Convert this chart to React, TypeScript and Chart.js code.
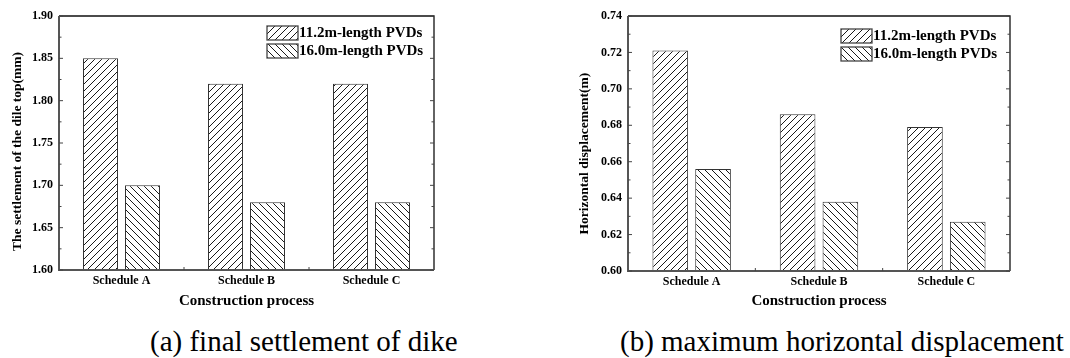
import React, { useEffect, useRef } from "react";
import { Chart, registerables } from "chart.js";

Chart.register(...registerables);

const categories = ["Schedule A", "Schedule B", "Schedule C"];
const seriesLabels = ["11.2m-length PVDs", "16.0m-length PVDs"];
const settlement112 = [1.85, 1.82, 1.82];
const settlement160 = [1.7, 1.68, 1.68];
const displacement112 = [0.721, 0.686, 0.679];
const displacement160 = [0.656, 0.638, 0.627];
const settlementTicks = { min: 1.6, max: 1.9, step: 0.05 };
const displacementTicks = { min: 0.6, max: 0.74, step: 0.02 };

const SERIF = "'Liberation Serif', 'Times New Roman', serif";

function makeHatch(forward: boolean): CanvasPattern | string {
  const s = 7;
  const c = document.createElement("canvas");
  c.width = s;
  c.height = s;
  const ctx = c.getContext("2d");
  if (!ctx) return "#fff";
  ctx.fillStyle = "#fff";
  ctx.fillRect(0, 0, s, s);
  ctx.strokeStyle = "#1a1a1a";
  ctx.lineWidth = 1;
  ctx.beginPath();
  if (forward) {
    ctx.moveTo(-1, s + 1);
    ctx.lineTo(s + 1, -1);
    ctx.moveTo(-1, 1);
    ctx.lineTo(1, -1);
    ctx.moveTo(s - 1, s + 1);
    ctx.lineTo(s + 1, s - 1);
  } else {
    ctx.moveTo(-1, -1);
    ctx.lineTo(s + 1, s + 1);
    ctx.moveTo(s - 1, -1);
    ctx.lineTo(s + 1, 1);
    ctx.moveTo(-1, s - 1);
    ctx.lineTo(1, s + 1);
  }
  ctx.stroke();
  const p = ctx.createPattern(c, "repeat");
  return p || "#fff";
}

type LegendPos = { x: number; y: number };

function makeFramePlugin(legend: LegendPos) {
  return {
    id: "frameAndLegend",
    afterDraw(chart: any) {
      const { ctx, chartArea } = chart;
      const { left, right, top, bottom } = chartArea;
      const y = chart.scales.y;
      const x = chart.scales.x;
      ctx.save();
      // frame
      ctx.strokeStyle = "#111";
      ctx.lineWidth = 1.3;
      ctx.beginPath();
      ctx.moveTo(left, top);
      ctx.lineTo(right, top);
      ctx.lineTo(right, bottom);
      ctx.stroke();
      ctx.strokeStyle = "#555";
      ctx.lineWidth = 2;
      ctx.beginPath();
      ctx.moveTo(left, top);
      ctx.lineTo(left, bottom);
      ctx.lineTo(right, bottom);
      ctx.stroke();
      // inner y ticks (major + minor) on left and right
      ctx.lineWidth = 1;
      ctx.strokeStyle = "#444";
      const ticks = y.ticks.map((t: any) => t.value);
      ctx.beginPath();
      for (let i = 0; i < ticks.length; i++) {
        const py = y.getPixelForValue(ticks[i]);
        ctx.moveTo(left, py);
        ctx.lineTo(left + 4, py);
        ctx.moveTo(right, py);
        ctx.lineTo(right - 4, py);
        if (i < ticks.length - 1) {
          const my = y.getPixelForValue((ticks[i] + ticks[i + 1]) / 2);
          ctx.moveTo(left, my);
          ctx.lineTo(left + 2.5, my);
          ctx.moveTo(right, my);
          ctx.lineTo(right - 2.5, my);
        }
      }
      // x ticks at category boundaries
      for (let i = 0; i < x.ticks.length - 1; i++) {
        const bx = (x.getPixelForTick(i) + x.getPixelForTick(i + 1)) / 2;
        ctx.moveTo(bx, bottom);
        ctx.lineTo(bx, bottom - 3);
      }
      ctx.stroke();
      // legend
      ctx.font = `bold 15px ${SERIF}`;
      ctx.textBaseline = "middle";
      ctx.textAlign = "left";
      chart.data.datasets.forEach((ds: any, i: number) => {
        const bx = legend.x;
        const by = legend.y + i * 18;
        ctx.fillStyle = ds.backgroundColor;
        ctx.fillRect(bx, by, 31, 14);
        ctx.strokeStyle = "#444";
        ctx.lineWidth = 1.3;
        ctx.strokeRect(bx, by, 31, 14);
        ctx.fillStyle = "#000";
        ctx.fillText(ds.label, bx + 32, by + 7.5);
      });
      ctx.restore();
    },
  };
}

type PanelProps = {
  left: number;
  yTitle: string;
  a: number[];
  b: number[];
  tickCfg: { min: number; max: number; step: number };
  plotLeft: number;
  plotRight: number;
  plotBottom: number;
  yTitlePad: number;
  legend: LegendPos;
};

function Panel(props: PanelProps) {
  const ref = useRef<HTMLCanvasElement | null>(null);
  useEffect(() => {
    if (!ref.current) return;
    const W = 535;
    const H = 310;
    const chart = new Chart(ref.current, {
      type: "bar",
      data: {
        labels: categories,
        datasets: [
          {
            label: seriesLabels[0],
            data: props.a,
            backgroundColor: makeHatch(true) as any,
            borderColor: "#333",
            borderWidth: 1,
            categoryPercentage: 0.672,
            barPercentage: 0.833,
          },
          {
            label: seriesLabels[1],
            data: props.b,
            backgroundColor: makeHatch(false) as any,
            borderColor: "#333",
            borderWidth: 1,
            categoryPercentage: 0.672,
            barPercentage: 0.833,
          },
        ],
      },
      options: {
        responsive: false,
        animation: false,
        devicePixelRatio: 1,
        layout: {
          padding: { left: 0, top: 16, right: W - props.plotRight, bottom: 0 },
        },
        plugins: {
          legend: { display: false },
          tooltip: { enabled: false },
        },
        scales: {
          x: {
            type: "category",
            grid: { display: false, drawTicks: false },
            border: { display: false },
            ticks: {
              padding: 4,
              color: "#000",
              font: { family: SERIF, size: 12, weight: "bold" },
            },
            title: {
              display: true,
              text: "Construction process",
              color: "#000",
              font: { family: SERIF, size: 15, weight: "bold", lineHeight: 1 },
              padding: { top: 0, bottom: 1 },
            },
            afterFit(scale: any) {
              scale.height = H - props.plotBottom;
            },
          },
          y: {
            type: "linear",
            min: props.tickCfg.min,
            max: props.tickCfg.max,
            grid: { display: false, drawTicks: false },
            border: { display: false },
            ticks: {
              stepSize: props.tickCfg.step,
              padding: 6,
              color: "#000",
              font: { family: SERIF, size: 12, weight: "bold" },
              callback: (v: any) => Number(v).toFixed(2),
            },
            title: {
              display: true,
              text: props.yTitle,
              color: "#000",
              font: { family: SERIF, size: 13.5, weight: "bold", lineHeight: 1.2 },
              padding: { top: props.yTitlePad, bottom: 0 },
            },
            afterFit(scale: any) {
              scale.width = props.plotLeft;
            },
          },
        },
      } as any,
      plugins: [makeFramePlugin(props.legend)],
    });
    return () => chart.destroy();
  }, []);
  return (
    <canvas
      ref={ref}
      width={535}
      height={310}
      style={{ position: "absolute", left: props.left, top: 0, width: 535, height: 310 }}
    />
  );
}

const captionStyle: React.CSSProperties = {
  position: "absolute",
  top: 327,
  fontFamily: SERIF,
  fontSize: 29,
  lineHeight: "29px",
  whiteSpace: "nowrap",
  color: "#000",
};

export default function App() {
  return (
    <div
      style={{
        position: "absolute",
        left: 0,
        top: 0,
        width: 1070,
        height: 358,
        background: "#fff",
        overflow: "hidden",
      }}
    >
      <Panel
        left={0}
        yTitle={"The settlement of the dile top(mm)     "}
        a={settlement112}
        b={settlement160}
        tickCfg={settlementTicks}
        plotLeft={59}
        plotRight={434}
        plotBottom={270}
        yTitlePad={9}
        legend={{ x: 267, y: 26 }}
      />
      <Panel
        left={535}
        yTitle={"Horizontal displacement(m)      "}
        a={displacement112}
        b={displacement160}
        tickCfg={displacementTicks}
        plotLeft={93}
        plotRight={475}
        plotBottom={271}
        yTitlePad={41}
        legend={{ x: 306, y: 29 }}
      />
      <div style={{ ...captionStyle, left: 150 }}>(a) final settlement of dike</div>
      <div style={{ ...captionStyle, left: 620 }}>(b) maximum horizontal displacement</div>
    </div>
  );
}
